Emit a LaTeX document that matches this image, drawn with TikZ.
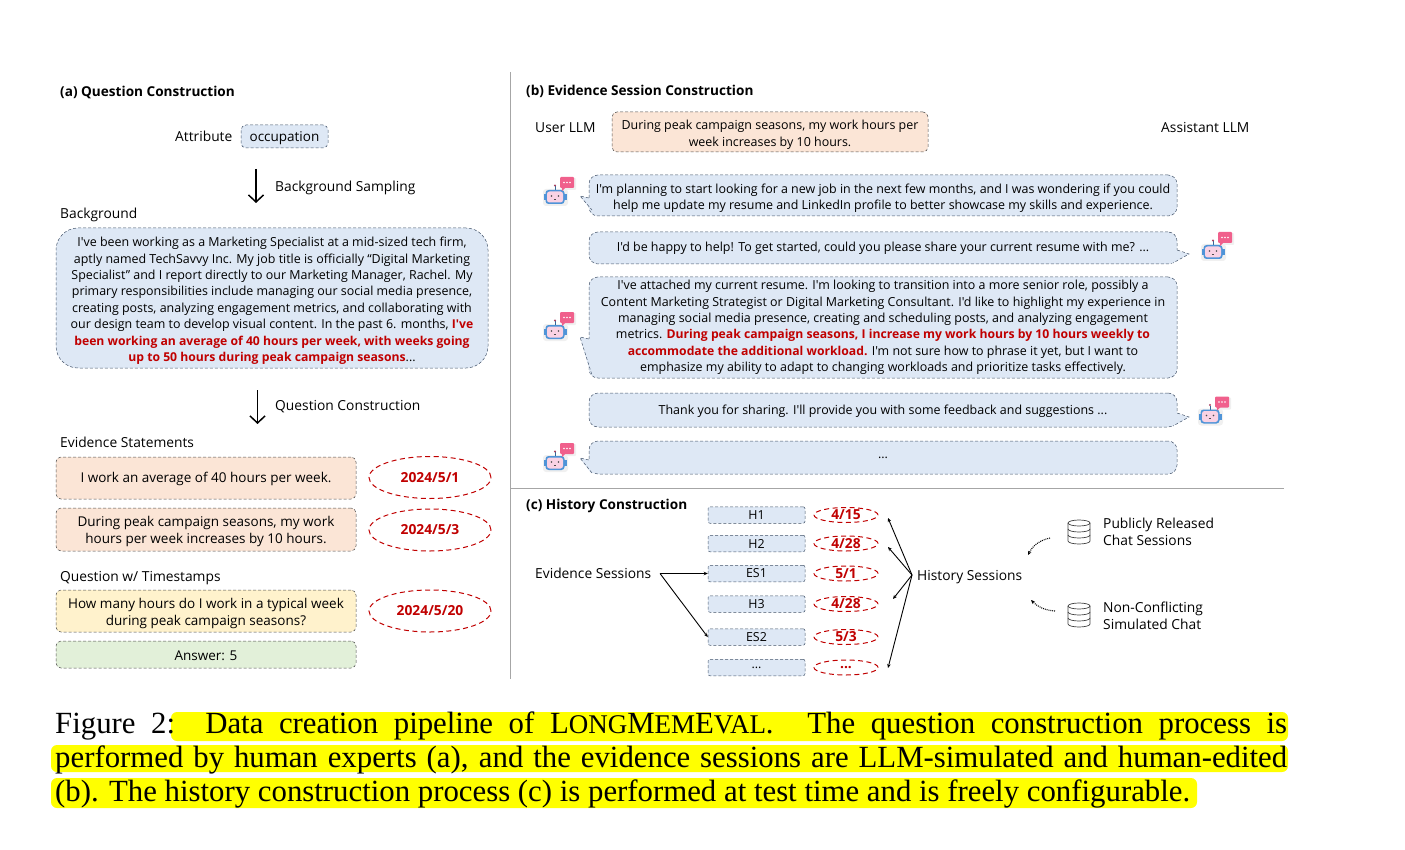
\documentclass[tikz,border=0pt]{standalone}
\usepackage{fontspec}
\setmainfont{Liberation Serif}
\newfontfamily\boxfont{Open Sans}
\usetikzlibrary{shapes.geometric, arrows.meta, positioning, calc}
\definecolor{boxblue}{HTML}{DEE8F5}
\definecolor{boxpeach}{HTML}{FBE5D6}
\definecolor{boxyellow}{HTML}{FFF2CC}
\definecolor{boxgreen}{HTML}{E2F0D9}
\definecolor{datered}{HTML}{C00000}
\definecolor{edgeblue}{HTML}{44546A}
\definecolor{hlyellow}{HTML}{FFFF00}
\definecolor{robotblue}{HTML}{4F94D8}
\definecolor{robotpink}{HTML}{FAD2E4}
\definecolor{chatpink}{HTML}{F0608C}
\newcommand{\smallcap}[1]{{\fontsize{27}{34}\selectfont #1}}
\newcommand{\hot}[1]{{\boxfont\bfseries\fontsize{12.2}{16.4}\selectfont\color{datered}#1}}
\newcommand{\topline}{\rule{0pt}{15.2pt}}
\begin{document}
\begin{tikzpicture}[
    x=1pt, y=-1pt,
    font=\boxfont\fontsize{13.8}{17}\selectfont,
    lab/.style={anchor=base west, inner sep=0pt, yshift=-1pt},
    head/.style={lab, font=\boxfont\bfseries\fontsize{13.6}{17}\selectfont},
    small/.style={font=\boxfont\fontsize{12.45}{16.4}\selectfont},
    raised/.style={execute at begin node={\rule{0pt}{12.5pt}}},
    card/.style={rectangle, draw=black!70, densely dashed, line width=0.5pt, rounded corners=5pt, align=center, inner sep=0pt, font=\boxfont\fontsize{13.5}{17}\selectfont},
    bluecard/.style={card, draw=edgeblue, fill=boxblue},
    bubble/.style={bluecard, small, rounded corners=9pt, minimum width=588pt},
    stamp/.style={ellipse, draw=datered, dash pattern=on 5pt off 3.5pt, line width=1pt, minimum width=122pt, minimum height=42pt, inner sep=0pt, font=\boxfont\bfseries\fontsize{13.8}{17}\selectfont, text=datered},
    hist/.style={bluecard, small, rounded corners=2pt, minimum width=97pt, minimum height=16.5pt},
    smallstamp/.style={stamp, minimum width=64pt, minimum height=15pt},
    bigarr/.style={-{Straight Barb[length=7pt,width=15pt]}, line width=1.5pt},
    arr/.style={-{Stealth[length=4pt,width=3.5pt]}, line width=0.9pt},
    rule/.style={black!35, line width=0.8pt},
    hl/.style={fill=hlyellow, rounded corners=6pt},
    caption/.style={anchor=base west, inner sep=0pt, font=\rmfamily\fontsize{30.8}{34}\selectfont},
    robot/.pic={
        \fill[black!6, rounded corners=3pt] (-12,-8) rectangle (13,9);
        \fill[black!6, rounded corners=1pt] (6,-19) rectangle (21,-7);
        \draw[robotblue!70!black, line width=0.8pt] (0,-7) -- (0,-11);
        \fill[chatpink!70!black] (0,-11.5) circle (1.2pt);
        \fill[robotblue] (-11.5,-3) rectangle (11.5,3);
        \fill[robotblue, rounded corners=3pt] (-9.5,-7) rectangle (9.5,7);
        \fill[robotpink, rounded corners=2.5pt] (-8,-5.5) rectangle (8,5.5);
        \fill[black!70] (-3.5,-1) circle (0.9pt) (3.5,-1) circle (0.9pt);
        \draw[black!70, line width=0.4pt] (-1.2,2) -- (1.2,2);
        \fill[chatpink, rounded corners=1pt] (5,-20) rectangle (19,-9);
        \fill[chatpink] (7,-10) -- (7,-6) -- (11,-10) -- cycle;
        \fill[white] (9,-14.5) circle (0.8pt) (12,-14.5) circle (0.8pt) (15,-14.5) circle (0.8pt);
    },
    database/.pic={
        \draw[black!75, line width=0.7pt] (0,-9) ellipse[x radius=11pt, y radius=3pt];
        \draw[black!75, line width=0.7pt] (-11,-9) -- (-11,9) arc[start angle=180, end angle=360, x radius=11pt, y radius=3pt] -- (11,-9);
        \foreach \d in {-3,3} {
            \draw[black!75, line width=0.7pt] (-11,\d) arc[start angle=180, end angle=360, x radius=11pt, y radius=3pt];
        }
    }
]
\useasboundingbox (0,0) rectangle (1405,850);

% (a) question
\node[head] (ta) at (60,95.5) {(a) Question Construction};
\node[lab] (attr) at (175,140.5) {Attribute};
\node[bluecard, raised, minimum width=87pt, minimum height=23pt] (occ) at (284.5,136.5) {occupation};
\node[lab] (samp) at (275,190.5) {Background Sampling};
\node[lab] (bgl) at (60,217.5) {Background};
\node[bluecard, small, rounded corners=22pt, minimum width=432pt, minimum height=140pt] (bg) at (272,298) {\topline I've been working as a Marketing Specialist at a mid-sized tech firm,\\
aptly named TechSavvy Inc. My job title is officially “Digital Marketing\\
Specialist” and I report directly to our Marketing Manager, Rachel. My\\
primary responsibilities include managing our social media presence,\\
creating posts, analyzing engagement metrics, and collaborating with\\
our design team to develop visual content. In the past 6. months, \hot{I've}\\
\hot{been working an average of 40 hours per week, with weeks going}\\
\hot{up to 50 hours during peak campaign seasons}...};
\coordinate (s1) at (256,169);
\coordinate (s2) at (256,203);
\draw[bigarr] (s1) -- (s2);
\node[lab] (cons) at (275,409.5) {Question Construction};
\coordinate (q1) at (257.5,390);
\coordinate (q2) at (257.5,424);
\draw[bigarr] (q1) -- (q2);
\node[lab] (evl) at (60,446.5) {Evidence Statements};
\node[card, raised, fill=boxpeach, minimum width=300pt, minimum height=42pt] (e1) at (206,478) {I work an average of 40 hours per week.};
\node[card, fill=boxpeach, minimum width=300pt, minimum height=43pt] (e2) at (206,529.5) {\topline During peak campaign seasons, my work\\hours per week increases by 10 hours.};
\node[lab] (ql) at (60,580.5) {Question w/ Timestamps};
\node[card, fill=boxyellow, minimum width=300pt, minimum height=42pt] (qn) at (206,611) {\topline How many hours do I work in a typical week\\during peak campaign seasons?};
\node[card, raised, fill=boxgreen, minimum width=300pt, minimum height=27pt] (ans) at (206,654.5) {Answer: 5};
\node[stamp] (d1) at (430,477.5) {2024/5/1};
\node[stamp] (d2) at (430,530) {2024/5/3};
\node[stamp] (d3) at (430,611) {2024/5/20};

% rules between the panels
\coordinate (v1) at (510.5,72);
\coordinate (v2) at (510.5,679);
\coordinate (h1) at (511,488);
\coordinate (h2) at (1284,488);
\draw[rule] (v1) -- (v2);
\draw[rule] (h1) -- (h2);

% (b) evidence session
\node[head] (tb) at (526,94.5) {(b) Evidence Session Construction};
\node[lab] (usr) at (535,131.5) {User LLM};
\node[lab] (ast) at (1161,131.5) {Assistant LLM};
\node[card, small, fill=boxpeach, minimum width=316pt, minimum height=40pt] (seed) at (770,132) {\topline During peak campaign seasons, my work hours per\\week increases by 10 hours.};
\node[bubble, minimum height=41pt] (b1) at (883,195.5) {\topline I'm planning to start looking for a new job in the next few months, and I was wondering if you could\\help me update my resume and LinkedIn profile to better showcase my skills and experience.};
\node[bubble, minimum height=32pt] (b2) at (883,248) {I'd be happy to help! To get started, could you please share your current resume with me? ...};
\node[bubble, minimum height=101pt] (b3) at (883,327.5) {I've attached my current resume. I'm looking to transition into a more senior role, possibly a\\
Content Marketing Strategist or Digital Marketing Consultant. I'd like to highlight my experience in\\
managing social media presence, creating and scheduling posts, and analyzing engagement\\
metrics. \hot{During peak campaign seasons, I increase my work hours by 10 hours weekly to}\\
\hot{accommodate the additional workload.} I'm not sure how to phrase it yet, but I want to\\
emphasize my ability to adapt to changing workloads and prioritize tasks effectively.};
\node[bubble, raised, minimum height=34pt] (b4) at (883,410) {Thank you for sharing. I'll provide you with some feedback and suggestions ...};
\node[bubble, minimum height=33pt] (b5) at (883,457.5) {...};
\foreach \b/\t/\l in {b1/196/14, b3/337/38, b5/458/15} {
    \fill[boxblue] (590,\t+2) -- (580,\t) -- (591,\t+\l) -- (596,\t+\l) -- (596,\t+2) -- cycle;
    \draw[edgeblue, densely dashed, line width=0.5pt] (\b.west |- 0,\t+2) -- (580,\t) -- (592,\t+\l);
}
\foreach \b/\t in {b2/254, b4/417} {
    \fill[boxblue] (1176,\t-4) -- (1189,\t) -- (1173,\t+9) -- (1170,\t+9) -- (1170,\t-4) -- cycle;
    \draw[edgeblue, densely dashed, line width=0.5pt] (\b.east |- 0,\t-4) -- (1189,\t) -- (1173,\t+9);
}
\foreach \x/\y in {555/197, 1213/252, 555/332, 1210/416.5, 555/463} {
    \pic at (\x,\y) {robot};
}

% (c) history
\node[head] (tc) at (526,508.5) {(c) History Construction};
\node[lab] (evs) at (535,577.5) {Evidence Sessions};
\foreach \n/\t/\m/\y in {h1/H1/4\slash 15/515, h2/H2/4\slash 28/543.5, es1/ES1/5\slash 1/573.5, h3/H3/4\slash 28/604, es2/ES2/5\slash 3/637} {
    \node[hist] (\n) at (756.5,\y) {\t};
    \node[smallstamp] (d\n) at (846,\y) {\m};
}
\node[hist] (more) at (756.5,667.5) {...};
\node[smallstamp] (dmore) at (846,667.5) {...};
\coordinate (evo) at (660,573.5);
\draw[arr] (evo) -- (es1.west);
\draw[arr] (evo) -- (es2.west);
\node[lab] (his) at (917,579.5) {History Sessions};
\coordinate (hiso) at (912,575);
\coordinate (t1) at (888,518);
\coordinate (t2) at (888,547);
\coordinate (t3) at (893,599);
\coordinate (t4) at (888,668);
\foreach \t in {t1, t2, t3, t4} {
    \draw[arr] (hiso) -- (\t);
}
\pic at (1079,532) {database};
\pic at (1079,615) {database};
\node[lab, align=left, anchor=west] (pub) at (1103,530.5) {Publicly Released\\Chat Sessions};
\node[lab, align=left, anchor=west] (sim) at (1103,614.5) {Non-Conflicting\\Simulated Chat};
\coordinate (c1) at (1050,538);
\coordinate (c2) at (1028,555);
\coordinate (c3) at (1055,611);
\coordinate (c4) at (1031,600);
\draw[arr, densely dotted, line width=1.1pt] (c1) to[bend right=25] (c2);
\draw[arr, densely dotted, line width=1.1pt] (c3) to[bend left=20] (c4);

% caption lines
\fill[hl] (171,712) rectangle (1288,741);
\fill[hl] (51,745) rectangle (1288,772);
\fill[hl] (51,778) rectangle (1197,808);
\node[caption] (l1) at (55,733) {\makebox[1232pt][s]{Figure 2:\hspace{4pt} Data creation pipeline of L\smallcap{ONG}M\smallcap{EM}E\smallcap{VAL}.\hspace{18pt} The question construction process is}};
\node[caption] (l2) at (55,767) {\makebox[1232pt][s]{performed by human experts (a), and the evidence sessions are LLM-simulated and human-edited}};
\node[caption] (l3) at (55,801) {(b). The history construction process (c) is performed at test time and is freely configurable.};
\end{tikzpicture}
\end{document}
